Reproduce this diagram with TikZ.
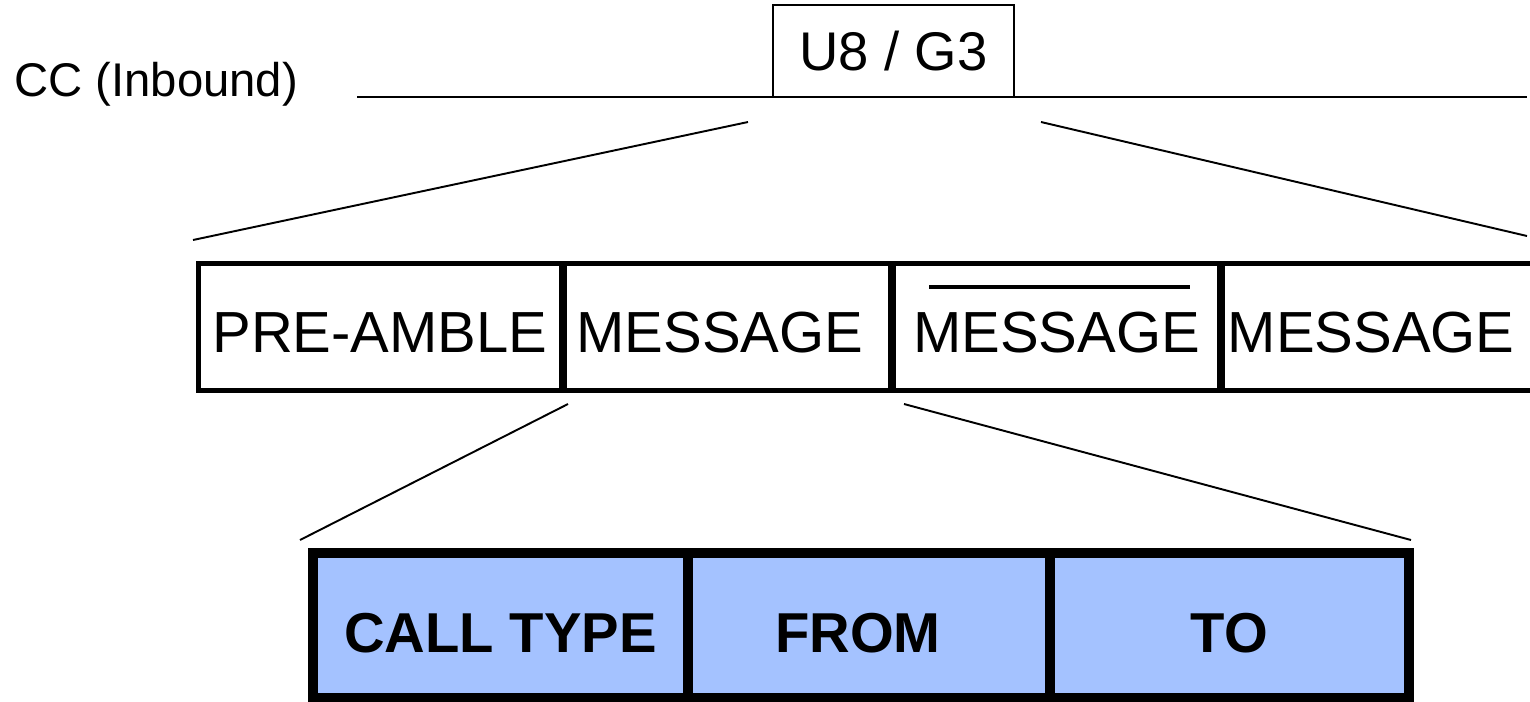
\documentclass[tikz,border=0pt]{standalone}
\usepackage{fontspec}
\setmainfont{Liberation Sans}
\usepackage{tikz}
\usetikzlibrary{positioning}
\usepackage{xcolor}
\definecolor{fieldblue}{RGB}{164,194,255}

\begin{document}
\begin{tikzpicture}[x=0.02cm, y=-0.02cm,
    thinline/.style={line width=1.1pt},
    field/.style={draw, line width=2.8pt, inner sep=0pt, minimum height=2.54cm,
        text height=1.0cm, text depth=0pt, font=\fontsize{33}{40}\selectfont},
    subfield/.style={draw, fill=fieldblue, line width=5.7pt, inner sep=0pt, minimum height=2.9cm,
        text height=1.07cm, text depth=0pt, font=\bfseries\fontsize{32}{38}\selectfont}]
    \useasboundingbox (0,0) rectangle (1530,701);
    \clip (0,0) rectangle (1530,701);

    % Channel line with the code group on top
    \node[anchor=base west, inner sep=0pt, font=\fontsize{26.9}{32}\selectfont] (cc) at (14,96) {CC (Inbound)};
    \coordinate (busl) at (357,97);
    \coordinate (busr) at (1527,97);
    \draw[thinline] (busl) -- (busr);
    \node[draw, fill=white, thinline, inner sep=0pt, minimum width=4.82cm, minimum height=1.84cm,
        text height=0.78cm, text depth=0pt, font=\fontsize{31}{36}\selectfont] (code) at (893.5,51) {U8 / G3};

    % Frame: preamble and the repeated messages
    \node[field, minimum width=7.26cm] (pre) at (380,327) {PRE-AMBLE};
    \node[field, minimum width=6.52cm] (msga) at (727.5,327) {MESSAGE\hspace*{0.3cm}};
    \node[field, minimum width=6.52cm] (msgb) at (1056.5,327) {MESSAGE};
    \node[field, minimum width=6.75cm] (msgc) at (1391.25,327) {MESSAGE\hspace*{0.8cm}};
    % inverted copy
    \draw[line width=2.3pt] (929,287) -- (1190,287);

    % Message fields
    \node[subfield, minimum width=7.5cm] (calltype) at (500.5,625.5) {CALL TYPE};
    \node[subfield, minimum width=7.24cm] (from) at (869,625.5) {FROM\hspace*{0.44cm}};
    \node[subfield, minimum width=7.18cm] (to) at (1229.5,625.5) {TO};

    % Zoom lines
    \coordinate (za) at (748,122);
    \coordinate (zb) at (1041,122);
    \coordinate (zc) at (193,240);
    \coordinate (zd) at (1527,236);
    \draw[thinline] (za) -- (zc);
    \draw[thinline] (zb) -- (zd);
    \coordinate (ze) at (568,404);
    \coordinate (zf) at (904,404);
    \coordinate (zg) at (300,540);
    \coordinate (zh) at (1411,540);
    \draw[thinline] (ze) -- (zg);
    \draw[thinline] (zf) -- (zh);
\end{tikzpicture}
\end{document}
